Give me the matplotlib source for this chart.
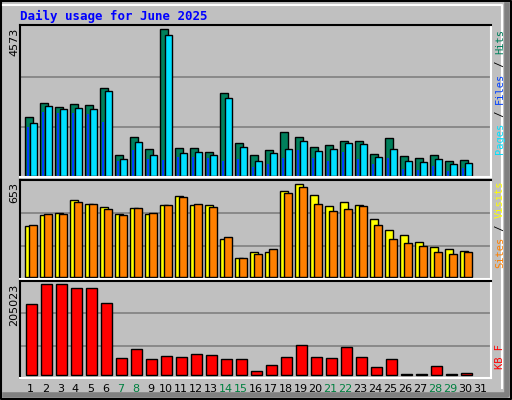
import numpy as np
import matplotlib; matplotlib.use("Agg")
import matplotlib.pyplot as plt

days = np.arange(1, 32)
hits = [1836, 2277, 2152, 2246, 2215, 2744, 660, 1229, 846, 4573, 877, 877, 753, 2588, 1033,
        660, 815, 1375, 1219, 908, 970, 1095, 1095, 691, 1188, 628, 566, 660, 473, 504, 0]
files = [1655, 2184, 2090, 2122, 2090, 2650, 535, 1064, 660, 4392, 722, 753, 660, 2433, 908,
         492, 722, 846, 1095, 784, 846, 1033, 1001, 597, 846, 473, 442, 535, 380, 411, 0]
pages = [1550, 1997, 1965, 1965, 1934, 1686, 473, 815, 535, 504, 597, 597, 566, 473, 535,
         286, 380, 566, 815, 566, 473, 753, 535, 380, 566, 224, 193, 317, 162, 255, 0]
sites = [356, 434, 448, 540, 511, 490, 441, 483, 441, 504, 568, 504, 504, 264, 130,
         172, 172, 606, 653, 575, 497, 526, 504, 405, 328, 292, 243, 207, 193, 179, 0]
visits = [363, 441, 441, 526, 511, 476, 434, 483, 448, 504, 561, 511, 490, 278, 130,
          158, 193, 589, 632, 511, 462, 476, 497, 363, 264, 236, 214, 172, 158, 172, 0]
kbytes = [160000, 205023, 205023, 196000, 196000, 162000, 38300, 58600, 36000, 42800, 40600,
          47300, 45000, 36000, 36000, 9000, 22500, 40600, 67600, 40600, 38300, 63000, 40600,
          18000, 36000, 2300, 2300, 20300, 2300, 4500, 0]
weekend = [7, 8, 14, 15, 21, 22, 28, 29]

W, H = 512, 400
fig = plt.figure(figsize=(W/100, H/100), dpi=100, facecolor="#c0c0c0")
mono = "DejaVu Sans Mono"

def panel(y0, y1, ylim, grid):
    ax = fig.add_axes([20/W, 1-y1/H, 471/W, (y1-y0)/H])
    ax.set_facecolor("#c0c0c0")
    ax.set_xlim(0.42, 0.42+471/15); ax.set_ylim(*ylim)
    for g in grid:
        ax.axhline(g, color="#808080", lw=1.2, zorder=0)
    ax.set_xticks([]); ax.set_yticks([])
    for s in ("top", "left"):
        ax.spines[s].set_color("black")
    for s in ("bottom", "right"):
        ax.spines[s].set_color("white")
    for s in ax.spines.values():
        s.set_linewidth(1.5)
    return ax

kw = dict(align="edge", edgecolor="black", linewidth=1)
d = days[:30]
ax1 = panel(25, 177, (-16, 4712), (1524, 3110))
ax1.bar(d-0.22, hits[:30], 0.5, color="#00805c", **kw)
ax1.bar(d+0.06, files[:30], 0.49, color="#00e0ff", **kw)
ax1.bar(d-0.1, pages[:30], 0.1, color="#0040ff", align="edge", linewidth=0)

ax2 = panel(180, 279, (-16, 683), (215, 448))
ax2.bar(d-0.22, sites[:30], 0.5, color="#ffff00", **kw)
ax2.bar(d+0.02, visits[:30], 0.53, color="#ff8000", **kw)

ax3 = panel(281, 378, (-6083, 212460), (65300, 139700))
ax3.bar(d-0.15, kbytes[:30], 0.7, color="#ff0000", **kw)

for day in days:
    x = ax3.transData.transform((day+0.12, 0))[0] / W
    fig.text(x, 1-389/H, str(day), ha="center", va="center",
             fontsize=8, color="#008040" if day in weekend else "black")

fig.text(20/W, 1-16/H, "Daily usage for June 2025", color="#0000ff", family=mono,
         fontweight="bold", fontsize=9, va="center")
fig.text(14/W, 1-28/H, "4573", rotation=90, ha="center", va="top", fontsize=8)
fig.text(14/W, 1-182/H, "653", rotation=90, ha="center", va="top", fontsize=8)
fig.text(14/W, 1-284/H, "205023", rotation=90, ha="center", va="top", fontsize=8)

def side(parts, ytop):
    y = ytop
    for txt, col in parts:
        fig.text(500/W, 1-y/H, txt, rotation=90, ha="center", va="top", color=col,
                 family=mono, fontsize=7.5)
        y += len(txt)*6.25
side([("Hits", "#00805c"), (" / ", "black"), ("Files", "#0040ff"), (" / ", "black"), ("Pages", "#00e0ff")], 29)
side([("Visits", "#ffff00"), (" / ", "black"), ("Sites", "#ff8000")], 181)
side([("KB F", "#ff0000")], 344)

# 3D border of the image
bd = fig.add_axes([0, 0, 1, 1], facecolor="none")
bd.set_xlim(0, W); bd.set_ylim(H, 0); bd.axis("off")
bd.plot([1, W-1, W-1, 1, 1], [1, 1, H-1, H-1, 1], color="black", lw=1.5)
bd.plot([3, W-10, W-10], [5, 5, H-12], color="white", lw=1.5)
bd.plot([W-5, W-5, 5], [5, H-5, H-5], color="#808080", lw=4)

fig.savefig("out.png", dpi=100, facecolor=fig.get_facecolor())
